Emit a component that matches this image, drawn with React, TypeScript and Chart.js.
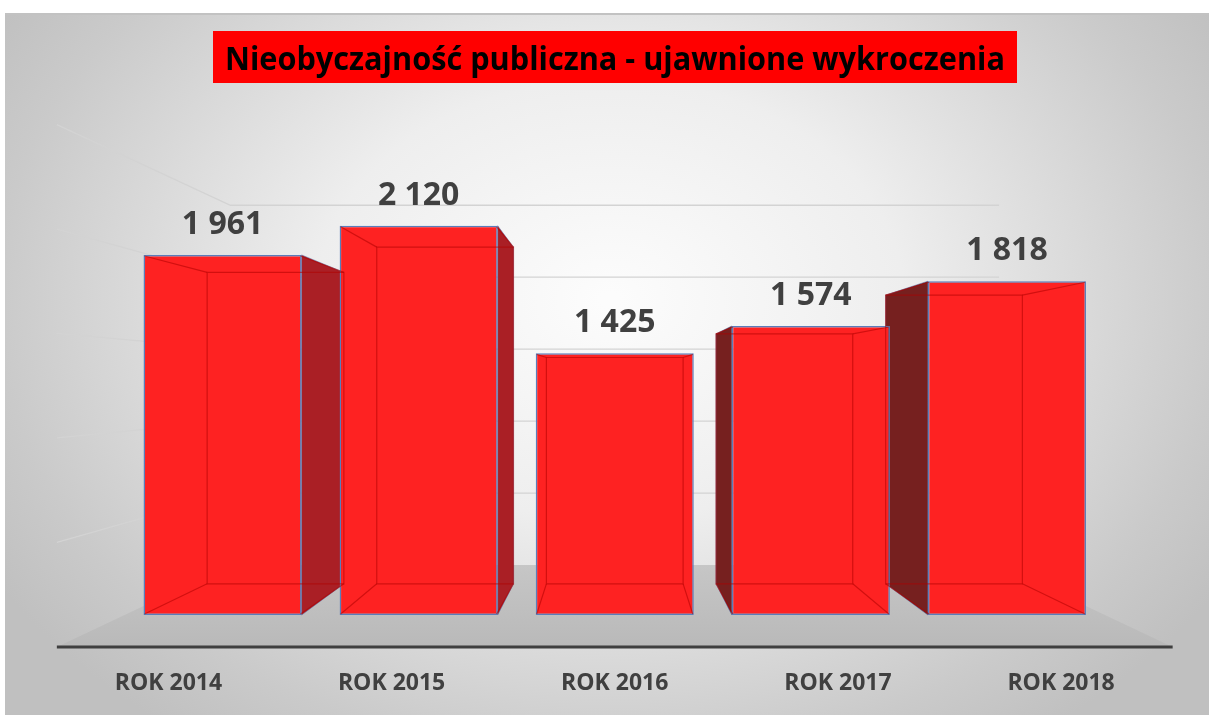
import React, { useEffect, useRef } from "react";
import { Chart, registerables } from "chart.js";

Chart.register(...registerables);

// ---- data ----
const categories = ["ROK 2014", "ROK 2015", "ROK 2016", "ROK 2017", "ROK 2018"];
const values = [1961, 2120, 1425, 1574, 1818];
const gridValues = [500, 1000, 1500, 2000, 2500];
const yMax = 2500;
const titleText = "Nieobyczajność publiczna - ujawnione wykroczenia";

// ---- layout / style constants ----
const W = 1209;
const H = 715;
const FLOOR_FRONT = 1.138; // perspective scale of floor front edge
const BAR_BACK = 0.865; // perspective scale of bar back face
const WALL = 0.784; // perspective scale of back wall
const VP_RISE = 231; // vanishing point height above the base line

const fmt = (v: number) => String(v).replace(/\B(?=(\d{3})+(?!\d))/g, " ");

function P(vx: number, vy: number, x: number, y: number, s: number): [number, number] {
  return [vx + (x - vx) * s, vy + (y - vy) * s];
}

function poly(ctx: CanvasRenderingContext2D, pts: [number, number][]) {
  ctx.beginPath();
  ctx.moveTo(pts[0][0], pts[0][1]);
  for (let i = 1; i < pts.length; i++) ctx.lineTo(pts[i][0], pts[i][1]);
  ctx.closePath();
}

function geom(chart: any) {
  const ca = chart.chartArea;
  const ys = chart.scales.y;
  const vx = (ca.left + ca.right) / 2;
  const base = ys.getPixelForValue(0);
  const vy = base - VP_RISE;
  return { ca, ys, vx, vy, base };
}

const threeD = {
  id: "threeD",
  beforeDraw(chart: any) {
    const ctx: CanvasRenderingContext2D = chart.ctx;
    ctx.save();
    ctx.fillStyle = "#ffffff";
    ctx.fillRect(0, 0, W, H);
    ctx.save();
    ctx.translate(610, 300);
    ctx.scale(1, 0.75);
    const g = ctx.createRadialGradient(0, 0, 10, 0, 0, 720);
    g.addColorStop(0, "#FCFCFC");
    g.addColorStop(0.4, "#EEEEEE");
    g.addColorStop(0.85, "#CACACA");
    g.addColorStop(1, "#C0C0C0");
    ctx.fillStyle = g;
    ctx.fillRect(-610, -400, W + 10, 1200);
    ctx.restore();
    // white page margin top/left
    ctx.fillStyle = "#ffffff";
    ctx.fillRect(0, 0, W, 13);
    ctx.fillRect(0, 0, 5, H);
    ctx.fillStyle = "#C2C2C2";
    ctx.fillRect(5, 13, W - 5, 2);
    // title box
    ctx.fillStyle = "#FF0000";
    ctx.fillRect(213, 31, 804, 52);
    ctx.fillStyle = "#000000";
    ctx.font = 'bold 33px "Open Sans"';
    ctx.textAlign = "center";
    ctx.textBaseline = "alphabetic";
    ctx.fillText(titleText, 615, 70, 780);
    ctx.restore();
  },
  beforeDatasetsDraw(chart: any) {
    const ctx: CanvasRenderingContext2D = chart.ctx;
    const { ca, ys, vx, vy, base } = geom(chart);
    ctx.save();
    // gridlines on left wall and back wall
    ctx.strokeStyle = "#D3D3D3";
    ctx.lineWidth = 1.3;
    for (const v of gridValues) {
      const yv = ys.getPixelForValue(v);
      const a = P(vx, vy, ca.left, yv, FLOOR_FRONT);
      const b = P(vx, vy, ca.left, yv, WALL);
      const c = P(vx, vy, ca.right, yv, WALL);
      ctx.beginPath();
      ctx.moveTo(a[0], a[1]);
      ctx.lineTo(b[0], b[1]);
      ctx.lineTo(c[0], c[1]);
      ctx.stroke();
    }
    // floor
    const f1 = P(vx, vy, ca.left, base, FLOOR_FRONT);
    const f2 = P(vx, vy, ca.right, base, FLOOR_FRONT);
    const f3 = P(vx, vy, ca.right, base, WALL);
    const f4 = P(vx, vy, ca.left, base, WALL);
    const fg = ctx.createLinearGradient(0, f4[1], 0, f1[1]);
    fg.addColorStop(0, "#C6C6C6");
    fg.addColorStop(1, "#B9B9B9");
    ctx.fillStyle = fg;
    poly(ctx, [f1, f2, f3, f4]);
    ctx.fill();
    ctx.strokeStyle = "#3F3F3F";
    ctx.lineWidth = 3;
    ctx.beginPath();
    ctx.moveTo(f1[0], f1[1]);
    ctx.lineTo(f2[0], f2[1]);
    ctx.stroke();

    // side faces
    const meta = chart.getDatasetMeta(0);
    const bars = meta.data.map((el: any) => el.getProps(["x", "y", "base", "width"], true));
    const order = bars
      .map((b: any, i: number) => ({ b, i }))
      .sort((p: any, q: any) => Math.abs(q.b.x - vx) - Math.abs(p.b.x - vx));
    for (const { b } of order) {
      const l = b.x - b.width / 2;
      const r = b.x + b.width / 2;
      let pts: [number, number][] | null = null;
      let col = "";
      if (r < vx) {
        pts = [P(vx, vy, r, b.y, 1), P(vx, vy, r, b.y, BAR_BACK), P(vx, vy, r, b.base, BAR_BACK), P(vx, vy, r, b.base, 1)];
        col = "#AA1F25";
      } else if (l > vx) {
        pts = [P(vx, vy, l, b.y, 1), P(vx, vy, l, b.y, BAR_BACK), P(vx, vy, l, b.base, BAR_BACK), P(vx, vy, l, b.base, 1)];
        col = "#76201F";
      }
      if (pts) {
        ctx.fillStyle = col;
        poly(ctx, pts);
        ctx.fill();
        ctx.strokeStyle = "rgba(90,110,165,0.55)";
        ctx.lineWidth = 1;
        ctx.stroke();
      }
    }
    ctx.restore();
  },
  afterDatasetsDraw(chart: any) {
    const ctx: CanvasRenderingContext2D = chart.ctx;
    const { vx, vy, base } = geom(chart);
    const meta = chart.getDatasetMeta(0);
    ctx.save();
    meta.data.forEach((el: any, i: number) => {
      const b = el.getProps(["x", "y", "base", "width"], true);
      const l = b.x - b.width / 2;
      const r = b.x + b.width / 2;
      const fl = [[l, b.y], [r, b.y], [r, b.base], [l, b.base]] as [number, number][];
      const bk = fl.map((p) => P(vx, vy, p[0], p[1], BAR_BACK));
      ctx.strokeStyle = "rgba(175,0,0,0.55)";
      ctx.lineWidth = 1.2;
      poly(ctx, bk);
      ctx.stroke();
      ctx.beginPath();
      for (let k = 0; k < 4; k++) {
        ctx.moveTo(fl[k][0] + (k === 0 || k === 3 ? 1 : -1), fl[k][1] + (k < 2 ? 1 : -1));
        ctx.lineTo(bk[k][0], bk[k][1]);
      }
      ctx.stroke();

      // value label
      ctx.fillStyle = "#404040";
      ctx.font = 'bold 32px "Open Sans"';
      ctx.textAlign = "center";
      ctx.textBaseline = "alphabetic";
      ctx.fillText(fmt(values[i]), b.x, b.y - 21);

      // category label projected to floor front
      const lp = P(vx, vy, b.x, base, FLOOR_FRONT);
      ctx.font = 'bold 23px "Open Sans"';
      ctx.fillText(categories[i], lp[0], 690);
    });
    ctx.restore();
  },
};

export default function App() {
  const ref = useRef<HTMLCanvasElement>(null);
  useEffect(() => {
    const chart = new Chart(ref.current as HTMLCanvasElement, {
      type: "bar",
      data: {
        labels: categories,
        datasets: [
          {
            data: values,
            backgroundColor: "#FE2222",
            borderColor: "#5A7DBB",
            borderWidth: 1.5,
            borderSkipped: false,
            barPercentage: 0.806,
            categoryPercentage: 1,
          },
        ],
      },
      options: {
        responsive: false,
        devicePixelRatio: 1,
        animation: false,
        events: [],
        layout: { padding: { left: 124.5, right: 104, top: 156, bottom: 100 } },
        plugins: {
          legend: { display: false },
          tooltip: { enabled: false },
          title: { display: false },
        },
        scales: {
          x: { display: false, grid: { display: false } },
          y: { display: false, min: 0, max: yMax, grid: { display: false } },
        },
      },
      plugins: [threeD],
    });
    return () => chart.destroy();
  }, []);
  return (
    <div style={{ position: "absolute", left: 0, top: 0, width: W, height: H }}>
      <canvas ref={ref} width={W} height={H} style={{ display: "block", width: W, height: H }} />
    </div>
  );
}
